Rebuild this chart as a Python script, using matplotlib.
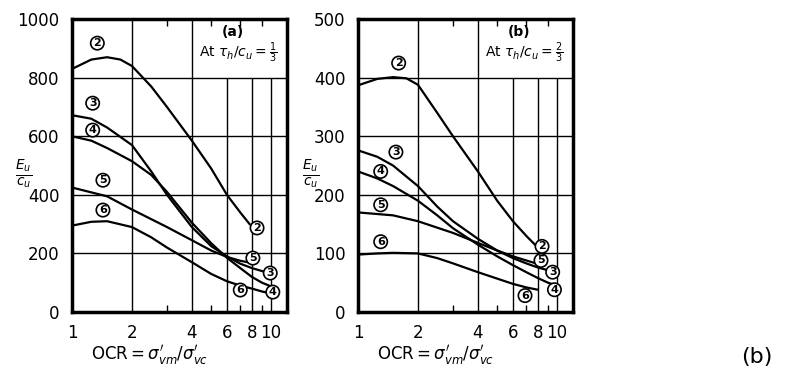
import matplotlib.pyplot as plt

# OCR values, curve values
ocr_2a = [1, 1.25, 1.5, 1.75, 2, 2.5, 3, 4, 5, 6, 7, 7.8]
eu_2a = [830, 862, 870, 862, 840, 770, 700, 585, 490, 400, 340, 300]
ocr_3a = [1, 1.25, 1.5, 2, 2.5, 3, 4, 5, 6, 7, 8, 9.5]
eu_3a = [672, 660, 630, 570, 480, 400, 290, 225, 190, 165, 150, 135]
ocr_4a = [1, 1.25, 1.5, 2, 2.5, 3, 4, 5, 6, 7, 8, 9, 10.2]
eu_4a = [600, 585, 560, 515, 468, 410, 305, 235, 185, 150, 120, 100, 85]
ocr_5a = [1, 1.5, 2, 3, 4, 5, 6, 7, 8.3]
eu_5a = [425, 395, 350, 290, 245, 210, 188, 175, 165]
ocr_6a = [1, 1.25, 1.5, 2, 2.5, 3, 4, 5, 6, 7, 8, 9, 10.5]
eu_6a = [295, 308, 310, 290, 255, 220, 170, 130, 105, 90, 80, 70, 60]

ocr_2b = [1, 1.25, 1.5, 1.75, 2, 2.5, 3, 4, 5, 6, 7, 8]
eu_2b = [387, 398, 401, 399, 388, 340, 300, 240, 190, 155, 130, 110]
ocr_3b = [1, 1.25, 1.5, 2, 2.5, 3, 4, 5, 6, 7, 8, 9.3]
eu_3b = [276, 265, 250, 215, 180, 155, 125, 105, 92, 83, 76, 70]
ocr_4b = [1, 1.25, 1.5, 2, 2.5, 3, 4, 5, 6, 7, 8, 9, 10]
eu_4b = [240, 228, 215, 190, 165, 143, 115, 95, 80, 68, 58, 50, 45]
ocr_5b = [1, 1.5, 2, 3, 4, 5, 6, 7, 8]
eu_5b = [170, 165, 155, 135, 118, 105, 95, 88, 82]
ocr_6b = [1, 1.25, 1.5, 2, 2.5, 3, 4, 5, 6, 7, 8]
eu_6b = [98, 100, 101, 100, 92, 83, 68, 57, 48, 42, 38]

curves_a = [(ocr_2a, eu_2a), (ocr_3a, eu_3a), (ocr_4a, eu_4a), (ocr_5a, eu_5a), (ocr_6a, eu_6a)]
curves_b = [(ocr_2b, eu_2b), (ocr_3b, eu_3b), (ocr_4b, eu_4b), (ocr_5b, eu_5b), (ocr_6b, eu_6b)]

# circled curve numbers: (text, ocr, value)
labels_a = [("2", 1.34, 918), ("3", 1.27, 713), ("4", 1.27, 621), ("5", 1.43, 450), ("6", 1.43, 348),
            ("2", 8.5, 287), ("5", 8.1, 184), ("3", 9.9, 133), ("4", 10.2, 68), ("6", 7.0, 75)]
labels_b = [("2", 1.6, 425), ("3", 1.55, 273), ("4", 1.3, 240), ("5", 1.3, 183), ("6", 1.3, 120),
            ("2", 8.4, 112), ("5", 8.3, 88), ("3", 9.5, 68), ("4", 9.7, 38), ("6", 6.9, 28)]

xticks = [1, 2, 4, 6, 8, 10]
yticks_a = [0, 200, 400, 600, 800, 1000]
yticks_b = [0, 100, 200, 300, 400, 500]

fig = plt.figure(figsize=(7.87, 3.74), dpi=100)
ax_a = fig.add_axes([0.0915, 0.1658, 0.273, 0.783])
ax_b = fig.add_axes([0.4549, 0.1658, 0.273, 0.783])


def draw_panel(ax, curves, labels, yticks, tag, frac):
    ymax = yticks[-1]
    ax.set_xscale("log")
    ax.set_xlim(1, 12)
    ax.set_ylim(0, ymax)
    for y in yticks[1:-1]:
        ax.axhline(y, color="black", lw=1.0, zorder=1)
    for x in [2, 4]:
        ax.axvline(x, color="black", lw=1.0, zorder=1)
    # the grid at 6, 8, 10 stops below the panel note
    ax.vlines([6, 8, 10], 0, 0.8 * ymax, color="black", lw=1.0, zorder=1)
    for ocr, eu in curves:
        ax.plot(ocr, eu, color="black", lw=1.6, zorder=2)
    for t, x, y in labels:
        ax.text(x, y, t, fontsize=8, fontweight="bold", ha="center", va="center", zorder=3,
                bbox=dict(boxstyle="circle,pad=0.15", fc="white", ec="black", lw=1.2))
    ax.set_xticks(xticks)
    ax.set_xticklabels([str(v) for v in xticks])
    ax.set_xticks([3, 5, 7, 9], minor=True)
    ax.set_xticklabels([], minor=True)
    ax.set_yticks(yticks)
    ax.tick_params(axis="both", which="major", length=0, labelsize=12, pad=9)
    ax.tick_params(axis="x", which="minor", direction="in", length=5, width=1, top=True, bottom=True)
    for s in ax.spines.values():
        s.set_linewidth(2.5)
    ax.text(0.75, 0.955, tag, transform=ax.transAxes, fontsize=10, fontweight="bold",
            ha="center", va="center")
    ax.text(0.775, 0.885, r"At $\tau_h/c_u = %s$" % frac, transform=ax.transAxes, fontsize=10,
            ha="center", va="center")


draw_panel(ax_a, curves_a, labels_a, yticks_a, "(a)", r"\frac{1}{3}")
draw_panel(ax_b, curves_b, labels_b, yticks_b, "(b)", r"\frac{2}{3}")

for x in [0.03, 0.395]:
    fig.text(x, 0.535, r"$\frac{E_u}{c_u}$", fontsize=14, ha="center", va="center")
for x in [0.19, 0.553]:
    fig.text(x, 0.05, r"OCR$=\sigma_{vm}^{\prime}/\sigma_{vc}^{\prime}$", fontsize=12,
             ha="center", va="center")
fig.text(0.962, 0.045, "(b)", fontsize=16, ha="center", va="center")

fig.savefig("out.png", dpi=100)
